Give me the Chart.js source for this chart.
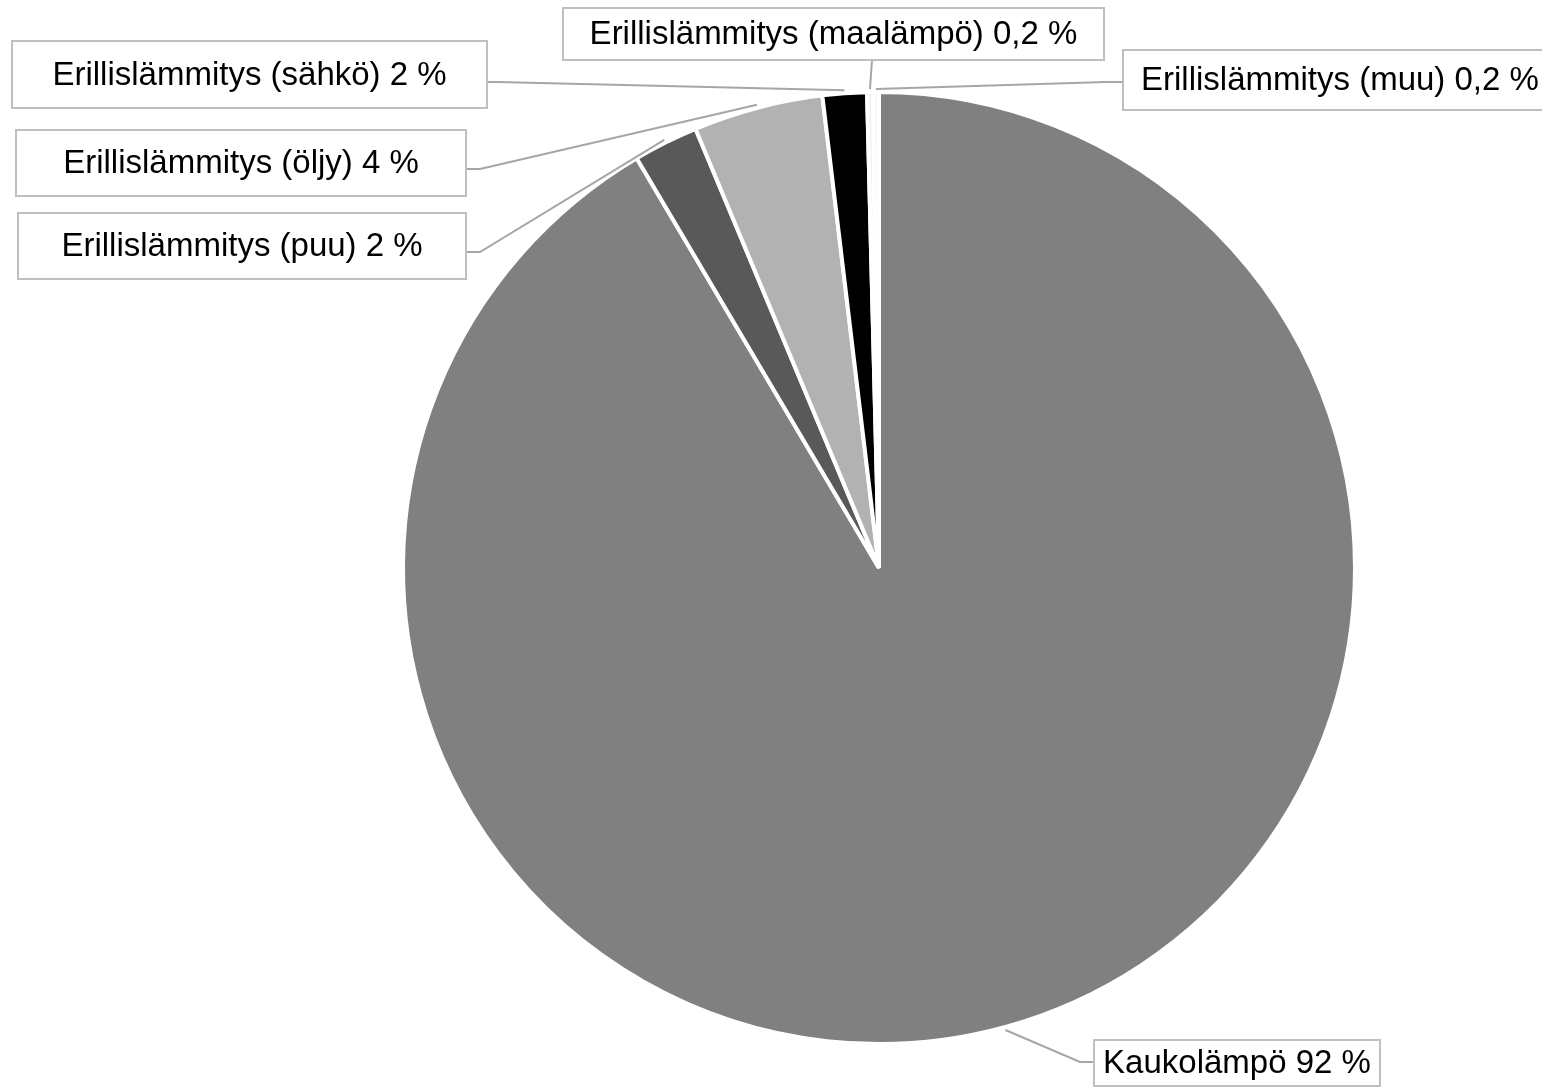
<!DOCTYPE html>
<html>
<head>
<meta charset="utf-8">
<title>Lämmitysmuodot</title>
<script src="https://cdn.jsdelivr.net/npm/chart.js@4.4.1/dist/chart.umd.min.js"></script>
<style>
  html, body { margin: 0; padding: 0; background: #fff; }
  canvas { display: block; }
</style>
</head>
<body>
<canvas id="heatChart" width="1542" height="1088"></canvas>
<script>
// ---------------- DATA ----------------
const categories = [
  "Kaukolämpö",
  "Erillislämmitys (puu)",
  "Erillislämmitys (öljy)",
  "Erillislämmitys (sähkö)",
  "Erillislämmitys (maalämpö)",
  "Erillislämmitys (muu)"
];
const shares = [91.5, 2.2, 4.4, 1.5, 0.2, 0.2];
const shareLabels = ["92 %", "2 %", "4 %", "2 %", "0,2 %", "0,2 %"];
const sliceColors = ["#808080", "#595959", "#b2b2b2", "#000000", "#eeeeee", "#f7f7f7"];

// ---------------- LABEL LAYOUT (boxes + leader elbows) ----------------
const labelLayout = [
  { box: [1094, 1040, 286, 46], attach: [1094, 1062], elbow: [1080, 1062] },
  { box: [18, 213, 448, 66], attach: [466, 252], elbow: [480, 252] },
  { box: [16, 130, 450, 66], attach: [466, 169], elbow: [480, 169] },
  { box: [12, 41, 475, 67], attach: [487, 82], elbow: [497, 82] },
  { box: [563, 8, 541, 52], attach: [872, 60], elbow: null },
  { box: [1123, 50, 440, 60], attach: [1123, 82], elbow: [1106, 82] }
];

const calloutPlugin = {
  id: "callouts",
  afterDraw(chart) {
    const ctx = chart.ctx;
    const arcs = chart.getDatasetMeta(0).data;
    ctx.save();
    ctx.font = "33px 'Liberation Sans', Arial, sans-serif";
    ctx.textAlign = "center";
    ctx.textBaseline = "middle";
    arcs.forEach((arc, i) => {
      const { x, y, startAngle, endAngle, outerRadius } =
        arc.getProps(["x", "y", "startAngle", "endAngle", "outerRadius"], true);
      const mid = (startAngle + endAngle) / 2;
      const r = outerRadius + 3;
      const ax = x + Math.cos(mid) * r;
      const ay = y + Math.sin(mid) * r;
      const lay = labelLayout[i];

      // leader line
      ctx.strokeStyle = "#a6a6a6";
      ctx.lineWidth = 2;
      ctx.beginPath();
      ctx.moveTo(lay.attach[0], lay.attach[1]);
      if (lay.elbow) ctx.lineTo(lay.elbow[0], lay.elbow[1]);
      ctx.lineTo(ax, ay);
      ctx.stroke();

      // box
      const [bx, by, bw, bh] = lay.box;
      ctx.fillStyle = "#ffffff";
      ctx.fillRect(bx, by, bw, bh);
      ctx.strokeStyle = "#bfbfbf";
      ctx.lineWidth = 2;
      ctx.strokeRect(bx, by, bw, bh);

      // text
      ctx.fillStyle = "#000000";
      const text = categories[i] + " " + shareLabels[i];
      let tx = bx + bw / 2;
      if (bx + bw > chart.width) {
        ctx.textAlign = "left";
        tx = bx + 18;
      } else {
        ctx.textAlign = "center";
      }
      ctx.fillText(text, tx, by + bh / 2 + 1);
    });
    ctx.restore();
  }
};

new Chart(document.getElementById("heatChart"), {
  type: "pie",
  data: {
    labels: categories,
    datasets: [{
      data: shares,
      backgroundColor: sliceColors,
      borderColor: "#ffffff",
      borderWidth: 4
    }]
  },
  options: {
    responsive: false,
    animation: false,
    events: [],
    radius: 476,
    layout: { padding: { left: 403, right: 187, top: 92, bottom: 44 } },
    plugins: {
      legend: { display: false },
      tooltip: { enabled: false }
    }
  },
  plugins: [calloutPlugin]
});
</script>
</body>
</html>
